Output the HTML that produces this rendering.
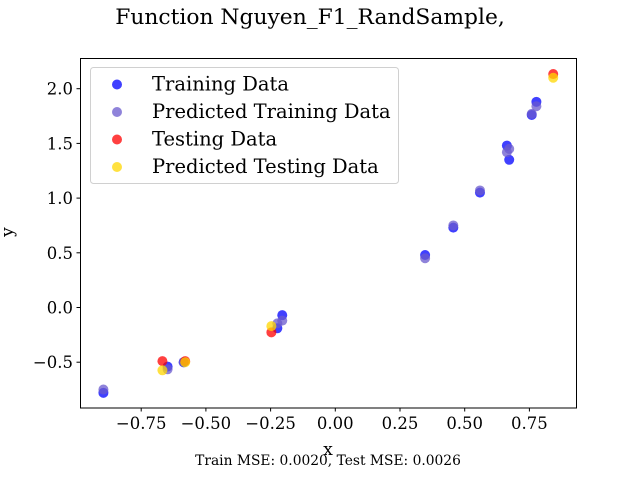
<!DOCTYPE html>
<html><head><meta charset="utf-8"><style>
html,body{margin:0;padding:0;background:#fff;}
svg{display:block;font-family:"DejaVu Serif","Liberation Serif",serif;}
</style></head><body>
<svg id="chart" width="640" height="480" viewBox="0 0 640 480" xmlns="http://www.w3.org/2000/svg">
<rect x="0" y="0" width="640" height="480" fill="#fff"/>
<text x="310" y="24" text-anchor="middle" font-size="21.8">Function Nguyen_F1_RandSample,</text>
<g id="axes"></g>
<rect x="80.5" y="58.5" width="496" height="349.5" fill="none" stroke="#000" stroke-width="1"/>
<text x="328" y="455" text-anchor="middle" font-size="17">x</text>
<text x="13" y="232" text-anchor="middle" font-size="17" transform="rotate(-90 13 232)">y</text>
<text x="328" y="465" text-anchor="middle" font-size="13.8">Train MSE: 0.0020, Test MSE: 0.0026</text>
<g>
<rect x="90.5" y="67.5" width="308" height="116" rx="3" fill="#fff" fill-opacity="0.8" stroke="#d0d0d0"/>
<circle cx="117" cy="84.5" r="5" fill="#0000ff" fill-opacity="0.75"/>
<text x="152" y="90.5" font-size="19.5">Training Data</text>
<circle cx="117" cy="112" r="5" fill="#6a5acd" fill-opacity="0.75"/>
<text x="152" y="118" font-size="19.5">Predicted Training Data</text>
<circle cx="117" cy="139.5" r="5" fill="#ff0000" fill-opacity="0.75"/>
<text x="152" y="145.5" font-size="19.5">Testing Data</text>
<circle cx="117" cy="167" r="5" fill="#ffd700" fill-opacity="0.75"/>
<text x="152" y="173" font-size="19.5">Predicted Testing Data</text>
</g>
</svg>
<script>
const trainX = [-0.896, -0.648, -0.586, -0.205, -0.224, 0.347, 0.456, 0.559, 0.663, 0.672, 0.759, 0.777];
const trainY = [-0.78, -0.54, -0.50, -0.07, -0.19, 0.48, 0.73, 1.05, 1.48, 1.35, 1.76, 1.88];
const trainPred = [-0.75, -0.565, -0.50, -0.12, -0.145, 0.45, 0.75, 1.07, 1.42, 1.45, 1.77, 1.84];
const testX = [-0.668, -0.58, -0.247, 0.842];
const testY = [-0.49, -0.49, -0.227, 2.134];
const testPred = [-0.574, -0.50, -0.17, 2.10];
const xTicks = [-0.75, -0.5, -0.25, 0, 0.25, 0.5, 0.75];
const xTickLabels = ["\u22120.75", "\u22120.50", "\u22120.25", "0.00", "0.25", "0.50", "0.75"];
const yTicks = [-0.5, 0, 0.5, 1, 1.5, 2];
const yTickLabels = ["\u22120.5", "0.0", "0.5", "1.0", "1.5", "2.0"];

function sx(v){ return 335.3 + v * 258.8; }
function sy(v){ return 307.5 - v * 109.4; }
const NS = "http://www.w3.org/2000/svg";
const g = document.getElementById("axes");
function mk(tag, attrs){ const e = document.createElementNS(NS, tag); for (const k in attrs) e.setAttribute(k, attrs[k]); g.appendChild(e); return e; }

xTicks.forEach((t, i) => {
  const l = mk("line", {x1: sx(t), x2: sx(t), y1: 408, y2: 411.5, stroke: "#000"});
  
  
  const tx = mk("text", {x: sx(t), y: 429, "text-anchor": "middle", "font-size": "16.5"});
  tx.textContent = xTickLabels[i];
  
  
});
yTicks.forEach((t, i) => {
  const l = mk("line", {x1: 76.5, x2: 80.5, y1: sy(t), y2: sy(t), stroke: "#000"});
  
  
  const tx = mk("text", {x: 73, y: sy(t) + 6, "text-anchor": "end", "font-size": "16.5"});
  tx.textContent = yTickLabels[i];
  
  
});
function pts(xs, ys, color, name){
  xs.forEach((x, i) => {
    const c = mk("circle", {cx: sx(x), cy: sy(ys[i]), r: 5, fill: color, "fill-opacity": 0.75});
    
    
  });
}
pts(trainX, trainY, "#0000ff", "training-point");
pts(trainX, trainPred, "#6a5acd", "predicted-training-point");
pts(testX, testY, "#ff0000", "testing-point");
pts(testX, testPred, "#ffd700", "predicted-testing-point");
</script>
</body></html>
